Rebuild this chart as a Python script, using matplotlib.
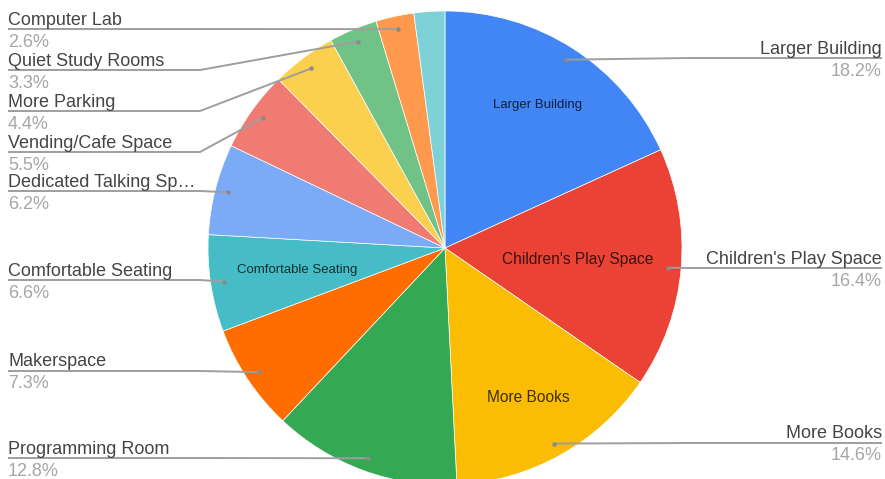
import numpy as np
import matplotlib
matplotlib.use("Agg")
import matplotlib.pyplot as plt

categories = ["Larger Building", "Children's Play Space", "More Books", "Programming Room",
              "Makerspace", "Comfortable Seating", "Dedicated Talking Sp…", "Vending/Cafe Space",
              "More Parking", "Quiet Study Rooms", "Computer Lab", ""]
shares = [18.2, 16.4, 14.6, 12.8, 7.3, 6.6, 6.2, 5.5, 4.4, 3.3, 2.6, 2.1]
colors = ["#4285F4", "#EA4335", "#FBBC04", "#34A853", "#FF6D01", "#46BDC6",
          "#7BAAF7", "#F07B72", "#FCD04F", "#71C287", "#FF994D", "#7ED1D7"]

# callout rows (pixel y of the underline) and side of each label
line_y = [58, 268, 443, 458, 371, 280, 191, 152, 111, 70, 29, None]
side = ["right"] * 3 + ["left"] * 8 + [None]
# slices that also carry their name inside the wedge: (radius fraction, font size)
inner = {0: (0.72, 9.5), 1: (0.56, 11.2), 2: (0.72, 11.2), 5: (0.63, 9.5)}

W, H = 885, 479
cx, cy, R = 445, H - 248, 237

plt.rcParams["font.family"] = ["Liberation Sans", "DejaVu Sans"]
fig = plt.figure(figsize=(W / 100, H / 100), dpi=100)
ax = fig.add_axes([0, 0, 1, 1])

ax.pie(shares, colors=colors, startangle=90, counterclock=False,
       center=(cx, cy), radius=R,
       wedgeprops=dict(edgecolor="white", linewidth=0.5))
ax.set_xlim(0, W)
ax.set_ylim(0, H)
ax.set_aspect("equal")
ax.axis("off")

total = sum(shares)
cum = np.cumsum([0] + shares[:-1])
mid = np.radians(360 * (cum + np.array(shares) / 2) / total)


def at(theta, r):
    return cx + r * np.sin(theta), cy + r * np.cos(theta)


line_col = "#9e9e9e"
for i, name in enumerate(categories):
    if side[i] is None:
        continue
    dx, dy = at(mid[i], 0.945 * R)
    ly = H - line_y[i]
    if side[i] == "left":
        xs, ys, tx, ha = [8, 200, dx], [ly, ly, dy], 8, "left"
    else:
        xs, ys, tx, ha = [882, 690, dx], [ly, ly, dy], 882, "right"
    ax.plot(xs, ys, color=line_col, lw=1.4, solid_capstyle="butt")
    ax.plot(dx, dy, "o", ms=3.2, color="#8a8a8a", mec="none")
    ax.text(tx, ly + 4.5, name, ha=ha, va="baseline", fontsize=13, color="#444444")
    ax.text(tx, ly - 17.5, f"{shares[i]}%", ha=ha, va="baseline", fontsize=13, color="#a6a6a6")

for i, (frac, size) in inner.items():
    px, py = at(mid[i], frac * R)
    ax.text(px, py, categories[i], ha="center", va="center", fontsize=size,
            color="black", alpha=0.75)

fig.savefig("out.png", dpi=100, facecolor="white")
